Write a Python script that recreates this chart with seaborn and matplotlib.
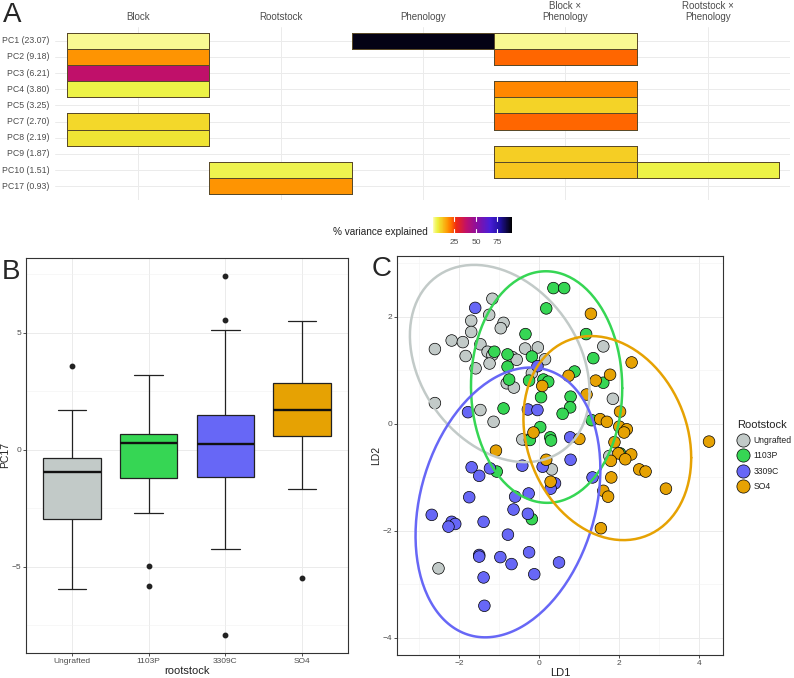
import numpy as np
import pandas as pd
import seaborn as sns
import matplotlib.pyplot as plt
from matplotlib.colors import LinearSegmentedColormap, to_rgba
from matplotlib.lines import Line2D

nan = np.nan

# --- panel A: % variance explained by each factor
pcs = ['PC1 (23.07)', 'PC2 (9.18)', 'PC3 (6.21)', 'PC4 (3.80)', 'PC5 (3.25)',
       'PC7 (2.70)', 'PC8 (2.19)', 'PC9 (1.87)', 'PC10 (1.51)', 'PC17 (0.93)']
factors = ['Block', 'Rootstock', 'Phenology', 'Block ×\nPhenology', 'Rootstock ×\nPhenology']
var_block = [1.4, 17, 38.6, 5, nan, 8.3, 7, nan, nan, nan]
var_rootstock = [nan, nan, nan, nan, nan, nan, nan, nan, 4.5, 17]
var_phenology = [90, nan, nan, nan, nan, nan, nan, nan, nan, nan]
var_block_pheno = [1.2, 22, nan, 18.5, 9, 22, nan, 10, 10.8, nan]
var_root_pheno = [nan, nan, nan, nan, nan, nan, nan, nan, 5, nan]

# --- panel B: PC17 scores by rootstock
rootstocks = ['Ungrafted', '1103P', '3309C', 'SO4']
colors = ['#C2CAC8', '#36D654', '#6767F6', '#E6A203']
pc17_ungrafted = [-5.95, -4.0, -2.95, -1.8, -0.95, -0.6, -0.35, 1.7, 3.6]
pc17_1103p = [-5.85, -4.97, -2.7, -1.2, -0.8, 0.0, 0.3, 0.45, 0.6, 0.67, 1.5, 2.2, 3.2]
pc17_3309c = [-7.95, -4.25, -2.5, -1.15, -0.6, -0.1, 0.26, 0.8, 1.2, 1.5, 5.13, 5.56, 7.45]
pc17_so4 = [-5.5, -1.7, 0.6, 1.2, 1.7, 2.3, 2.87, 4.0, 5.5]

# --- panel C: LDA scores
ld1_ungrafted = [-1.17, -1.25, -1.70, -0.89, -0.96, -1.70, -2.19, -1.91, -1.47, -2.61, -1.84,
                 -1.29, -1.17, -0.67, -0.56, -0.35, -0.03, 0.15, -1.24, -1.59, -0.81, -0.63,
                 -0.18, 1.61, 1.85, -2.61, -1.47, -1.14, -0.31, -0.42, 1.76, 0.32, -2.52]
ld2_ungrafted = [2.34, 2.04, 1.93, 1.89, 1.79, 1.72, 1.56, 1.53, 1.49, 1.40, 1.27,
                 1.35, 1.29, 1.25, 1.20, 1.41, 1.43, 1.21, 1.13, 1.04, 0.76, 0.68,
                 0.95, 1.45, 0.47, 0.39, 0.26, 0.04, -0.30, -0.29, -0.60, -0.85, -2.70]
ld1_1103p = [0.36, 0.63, 0.18, -0.34, 1.18, -1.12, -0.79, -0.79, -0.18, 1.36, 0.89, -0.75,
             -0.25, 0.11, 0.23, 1.61, 0.05, 0.79, 0.78, 0.59, -0.89, 1.32, 0.03, -0.23,
             0.28, 0.30, -1.06, -0.18, 2.03]
ld2_1103p = [2.54, 2.54, 2.16, 1.68, 1.68, 1.35, 1.30, 1.07, 1.26, 1.23, 0.98, 0.83,
             0.81, 0.83, 0.79, 0.77, 0.50, 0.51, 0.31, 0.19, 0.29, 0.07, -0.06, -0.30,
             -0.25, -0.31, -0.89, -1.78, -0.55]
ld1_3309c = [-1.60, -0.04, -0.28, -0.04, -1.78, 0.78, 0.79, -1.69, -1.50, -1.23, -0.42, 0.09,
             0.40, 0.29, -0.26, 1.34, -1.75, -0.60, -0.64, -0.28, -2.69, -2.19, -2.10, -2.27,
             -1.39, -0.78, -1.50, -1.50, -0.97, -0.69, -0.25, 0.50, -0.12, -1.39, -1.37]
ld2_3309c = [2.17, 1.08, 0.27, 0.26, 0.22, -0.25, -0.67, -0.81, -0.97, -0.83, -0.78, -0.80,
             -1.11, -1.21, -1.30, -1.00, -1.37, -1.36, -1.60, -1.68, -1.70, -1.83, -1.87, -1.92,
             -1.83, -2.07, -2.45, -2.48, -2.49, -2.62, -2.40, -2.59, -2.81, -2.87, -3.40]
ld1_so4 = [1.30, 2.32, 0.74, 1.42, 1.78, 0.08, 1.19, 2.03, 1.53, 1.70, 2.01, 2.20, 2.13, -0.14,
           1.01, 1.89, 4.26, -1.08, 1.99, 2.31, 1.80, 2.16, 0.18, 2.51, 2.67, 1.81, 0.29, 3.18,
           1.61, 1.73, 1.55]
ld2_so4 = [2.06, 1.15, 0.90, 0.81, 0.92, 0.71, 0.55, 0.23, 0.09, 0.04, -0.05, -0.10, -0.16, -0.16,
           -0.28, -0.34, -0.33, -0.50, -0.55, -0.57, -0.69, -0.66, -0.67, -0.85, -0.89, -1.00, -1.08,
           -1.21, -1.25, -1.36, -1.95]

sns.set_theme(style='white')
plt.rcParams['font.family'] = ['Liberation Sans', 'DejaVu Sans']
TXT = '#4D4D4D'
W, H = 794, 678

fig = plt.figure(figsize=(W / 100, H / 100), dpi=100)

def px_axes(l, t, r, b):
    return fig.add_axes([l / W, 1 - b / H, (r - l) / W, (b - t) / H])

# ---------------- A
heat = pd.DataFrame({f: v for f, v in zip(factors, [var_block, var_rootstock, var_phenology,
                                                     var_block_pheno, var_root_pheno])}, index=pcs)
cmap = LinearSegmentedColormap.from_list('var', [
    (0.0, '#FFFFB0'), (0.015, '#F7F78A'), (0.055, '#ECF240'), (0.09, '#F3D82A'),
    (0.115, '#F6C820'), (0.19, '#FF9000'), (0.24, '#FF6500'), (0.29, '#F02A10'),
    (0.42, '#C0106A'), (0.56, '#8A0FA0'), (0.72, '#4A1ED8'), (0.85, '#2010A0'), (1.0, '#000000')])

ax_a = px_axes(55, 27, 790, 200)
cax = px_axes(433, 217, 512, 233)
sns.heatmap(heat, ax=ax_a, cmap=cmap, vmin=0, vmax=92, linewidths=0.7, linecolor='#5A4A28',
            xticklabels=True, yticklabels=True,
            cbar_ax=cax, cbar_kws={'orientation': 'horizontal', 'ticks': [25, 50, 75]})
# no outline on the empty cells
mesh = ax_a.collections[0]
empty = np.isnan(heat.to_numpy().ravel())
mesh.set_edgecolors([(0, 0, 0, 0) if e else to_rgba('#5A4A28') for e in empty])
mesh.set_linewidths([0 if e else 0.7 for e in empty])

ax_a.set_xlim(-0.084, 5.077)
ax_a.set_ylim(10.34, -0.34)
ax_a.grid(True, color='#EBEBEB', lw=0.7)
ax_a.set_axisbelow(True)
ax_a.xaxis.tick_top()
ax_a.set_xticklabels(factors, rotation=0, fontsize=7, color=TXT, linespacing=1.1)
ax_a.set_yticklabels(pcs, rotation=0, fontsize=6.3, color=TXT)
ax_a.tick_params(axis='x', length=0, pad=3.5)
ax_a.tick_params(axis='y', length=0, pad=4)
ax_a.set_xlabel('')
ax_a.set_ylabel('')

cax.tick_params(length=0, labelsize=6, labelcolor=TXT, pad=4.5)
for t in [25, 50, 75]:
    cax.axvline(t, ymin=0, ymax=0.22, color='white', lw=0.8)
    cax.axvline(t, ymin=0.78, ymax=1, color='white', lw=0.8)
mesh.colorbar.outline.set_visible(False)
fig.text(428 / W, 1 - 232 / H, '% variance explained', ha='right', va='center', fontsize=7.2, color='#222')

# ---------------- B
box_df = pd.DataFrame({
    'rootstock': ['Ungrafted'] * len(pc17_ungrafted) + ['1103P'] * len(pc17_1103p)
                 + ['3309C'] * len(pc17_3309c) + ['SO4'] * len(pc17_so4),
    'PC17': pc17_ungrafted + pc17_1103p + pc17_3309c + pc17_so4})
ax_b = px_axes(26, 258, 348, 653)
sns.boxplot(data=box_df, x='rootstock', y='PC17', hue='rootstock', order=rootstocks,
            hue_order=rootstocks, palette=colors, saturation=1, width=0.75, linewidth=0.9,
            linecolor='#222222', fliersize=3.2,
            flierprops={'marker': 'o', 'markerfacecolor': '#222222', 'markeredgecolor': '#222222'},
            medianprops={'linewidth': 1.7, 'color': '#111111'}, legend=False, ax=ax_b)
ax_b.set_xlim(-0.6, 3.6)
ax_b.set_ylim(-8.7, 8.2)
ax_b.set_yticks([-5, 0, 5])
ax_b.set_yticks([-7.5, -2.5, 2.5, 7.5], minor=True)

# ---------------- C
ld_df = pd.DataFrame({
    'Rootstock': ['Ungrafted'] * len(ld1_ungrafted) + ['1103P'] * len(ld1_1103p)
                 + ['3309C'] * len(ld1_3309c) + ['SO4'] * len(ld1_so4),
    'LD1': ld1_ungrafted + ld1_1103p + ld1_3309c + ld1_so4,
    'LD2': ld2_ungrafted + ld2_1103p + ld2_3309c + ld2_so4})
ax_c = px_axes(397, 256, 723, 655)
sns.scatterplot(data=ld_df, x='LD1', y='LD2', hue='Rootstock', hue_order=rootstocks, palette=colors,
                s=70, edgecolor='black', linewidth=0.5, legend=False, ax=ax_c, zorder=3)


def trob(x, nu=5, maxit=25, tol=0.01):
    # robust t covariance as in MASS::cov.trob
    n, p = x.shape
    loc = x.mean(axis=0)
    w = np.ones(n)
    for _ in range(maxit):
        w0 = w
        d = x - loc
        S = (w[:, None, None] * np.einsum('ni,nj->nij', d, d)).sum(0) / w.sum()
        Q = np.einsum('ni,ij,nj->n', d, np.linalg.inv(S), d)
        w = (nu + p) / (nu + Q)
        loc = (w[:, None] * x).sum(0) / w.sum()
        if np.all(np.abs(w - w0) < tol):
            break
    d = x - loc
    cov = (w[:, None] * d).T @ d / n
    return loc, cov


ang = np.linspace(0, 2 * np.pi, 200)
for grp, col in zip(rootstocks, colors):
    pts = ld_df.loc[ld_df['Rootstock'] == grp, ['LD1', 'LD2']].to_numpy()
    center, shape = trob(pts)
    dfd = len(pts) - 1
    fq = dfd / 2 * ((0.05) ** (-2 / dfd) - 1)
    radius = np.sqrt(2 * fq)
    chol = np.linalg.cholesky(shape).T
    circ = np.column_stack([np.cos(ang), np.sin(ang)])
    ell = center + radius * circ @ chol
    ax_c.plot(ell[:, 0], ell[:, 1], color=col, lw=1.8, zorder=4)

ax_c.set_xlim(-3.56, 4.61)
ax_c.set_ylim(-4.32, 3.14)
ax_c.set_xticks([-2, 0, 2, 4])
ax_c.set_xticks([-3, -1, 1, 3], minor=True)
ax_c.set_yticks([-4, -2, 0, 2])
ax_c.set_yticks([-3, -1, 1, 3], minor=True)

handles = [Line2D([], [], marker='o', ls='', ms=9.5, mfc=c, mec='black', mew=0.5) for c in colors]
leg = ax_c.legend(handles, rootstocks, title='Rootstock', loc='upper left',
                  bbox_to_anchor=(734 / W, 1 - 417 / H), bbox_transform=fig.transFigure,
                  frameon=False, fontsize=6.2, title_fontsize=8, labelspacing=0.7,
                  handletextpad=0.7, handlelength=1.2, borderaxespad=0, alignment='left')
leg.get_title().set_color('#222')
for t in leg.get_texts():
    t.set_color('#222')

# shared theme_bw look
for ax in (ax_b, ax_c):
    ax.grid(True, which='major', color='#EBEBEB', lw=0.7)
    ax.grid(True, which='minor', color='#F2F2F2', lw=0.4)
    ax.set_axisbelow(True)
    for s in ax.spines.values():
        s.set_visible(True)
        s.set_color('#333333')
        s.set_linewidth(0.8)
    ax.tick_params(which='major', length=2, width=0.6, color='#333333', labelsize=6,
                   labelcolor=TXT, pad=1.5, bottom=True, left=True)
    ax.tick_params(which='minor', length=0)

ax_b.set_xlabel('rootstock', fontsize=8, color='#222', labelpad=1)
ax_b.set_ylabel('PC17', fontsize=7.5, color='#222', labelpad=1)
ax_c.set_xlabel('LD1', fontsize=8, color='#222', labelpad=1)
ax_c.set_ylabel('LD2', fontsize=7.5, color='#222', labelpad=1)

fig.text(3 / W, 1 - 2 / H, 'A', fontsize=20, va='top', ha='left')
fig.text(2 / W, 1 - 259 / H, 'B', fontsize=20, va='top', ha='left')
fig.text(372 / W, 1 - 256 / H, 'C', fontsize=20, va='top', ha='left')

fig.savefig('out.png', dpi=100)
